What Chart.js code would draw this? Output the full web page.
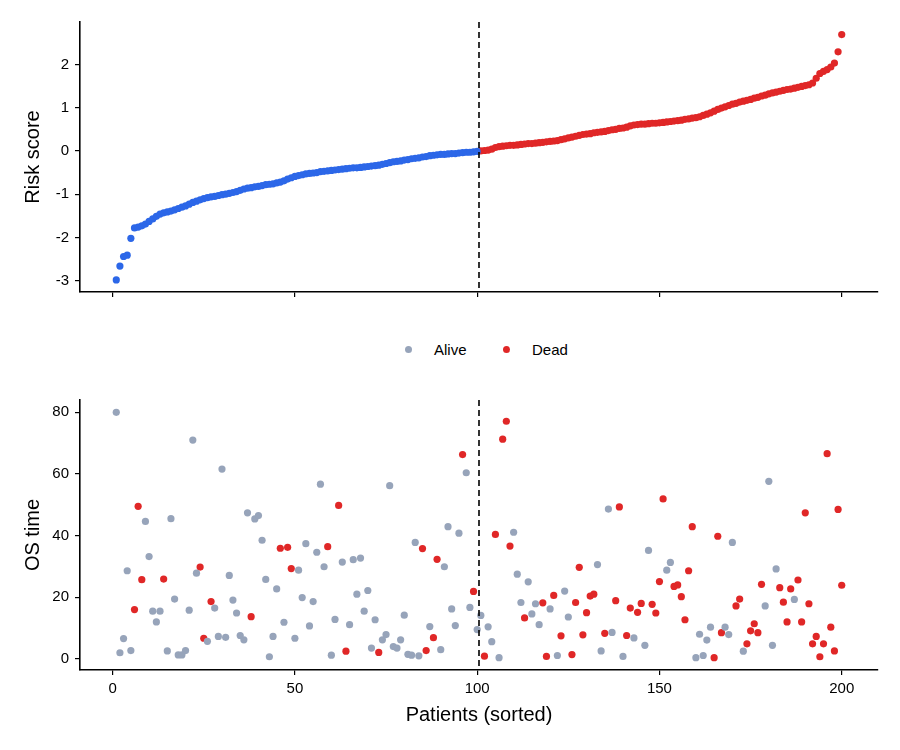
<!DOCTYPE html>
<html>
<head>
<meta charset="utf-8">
<script src="https://cdn.jsdelivr.net/npm/chart.js@4.4.1/dist/chart.umd.min.js"></script>
<style>
  body { margin: 0; background: #fff; width: 900px; height: 750px; position: relative; overflow: hidden; font-family: "Liberation Sans", Arial, sans-serif; }
  #top { position: absolute; left: 0; top: 0; }
  #bottom { position: absolute; left: 0; top: 390px; }
  .leyenda { position: absolute; top: 339px; font-size: 15px; color: #000; line-height: 22px; }
  .punto { display: inline-block; width: 7px; height: 7px; border-radius: 50%; vertical-align: middle; margin-right: 22px; position: relative; top: -2px; }
</style>
</head>
<body>
<canvas id="top" width="900" height="310"></canvas>
<div class="leyenda" style="left:405px"><span class="punto" style="background:#97a4ba"></span>Alive</div>
<div class="leyenda" style="left:503px"><span class="punto" style="background:#e02727"></span>Dead</div>
<canvas id="bottom" width="900" height="360"></canvas>
<script>
// risk score per patient, sorted (patient = position + 1)
const riskScore = [
  -2.98,-2.66,-2.44,-2.41,-2.02,-1.78,-1.76,-1.73,-1.69,-1.63,
  -1.57,-1.51,-1.46,-1.43,-1.41,-1.39,-1.36,-1.33,-1.30,-1.27,
  -1.23,-1.19,-1.16,-1.13,-1.10,-1.08,-1.06,-1.05,-1.03,-1.01,
  -1.00,-0.98,-0.96,-0.94,-0.91,-0.88,-0.86,-0.85,-0.83,-0.82,
  -0.80,-0.78,-0.77,-0.76,-0.74,-0.72,-0.69,-0.65,-0.62,-0.59,
  -0.57,-0.55,-0.53,-0.52,-0.51,-0.50,-0.48,-0.47,-0.46,-0.45,
  -0.44,-0.43,-0.42,-0.41,-0.40,-0.39,-0.39,-0.38,-0.37,-0.36,
  -0.35,-0.34,-0.33,-0.31,-0.29,-0.27,-0.25,-0.24,-0.23,-0.21,
  -0.20,-0.18,-0.17,-0.16,-0.14,-0.13,-0.11,-0.10,-0.09,-0.08,
  -0.08,-0.07,-0.06,-0.06,-0.05,-0.04,-0.03,-0.03,-0.02,-0.01,
  0.00,0.01,0.02,0.04,0.08,0.10,0.11,0.12,0.13,0.13,
  0.14,0.15,0.16,0.17,0.17,0.18,0.19,0.20,0.21,0.22,
  0.23,0.24,0.26,0.28,0.30,0.32,0.34,0.36,0.38,0.39,
  0.40,0.42,0.43,0.44,0.45,0.47,0.49,0.50,0.52,0.53,
  0.55,0.58,0.60,0.61,0.62,0.62,0.63,0.64,0.64,0.65,
  0.66,0.67,0.68,0.69,0.70,0.71,0.73,0.74,0.76,0.77,
  0.79,0.82,0.85,0.88,0.92,0.96,0.99,1.02,1.05,1.08,
  1.10,1.13,1.15,1.17,1.19,1.22,1.24,1.27,1.29,1.32,
  1.34,1.36,1.38,1.40,1.42,1.43,1.45,1.47,1.49,1.51,
  1.53,1.57,1.68,1.79,1.84,1.88,1.94,2.03,2.29,2.69
];

// overall survival time, same patient order
const osTime = [
  80.0,2.0,6.6,28.6,2.7,16.0,49.5,25.7,44.6,33.2,
  15.5,12.0,15.5,25.9,2.6,45.5,19.4,1.3,1.3,2.7,
  15.8,71.0,27.8,29.8,6.7,5.7,18.6,16.5,7.3,61.6,
  7.0,27.1,19.1,14.9,7.6,6.2,47.4,13.7,45.4,46.5,
  38.5,25.8,0.7,7.3,22.7,35.9,11.9,36.2,29.3,6.7,
  28.8,19.9,37.4,10.7,18.6,34.6,56.7,29.9,36.4,1.2,
  12.8,49.8,31.4,2.5,11.1,32.2,21.0,32.7,15.5,22.2,
  3.5,12.7,2.1,6.2,7.9,56.2,4.0,3.5,6.2,14.2,
  1.5,1.2,37.8,1.0,35.8,2.7,10.5,6.9,32.3,3.0,
  29.9,42.9,16.2,10.8,40.8,66.3,60.4,16.7,21.9,9.5,
  14.1,0.9,10.4,5.6,40.4,0.4,71.3,77.1,36.6,41.1,
  27.5,18.3,13.3,25.0,14.6,17.9,11.1,18.2,0.8,16.2,
  20.6,1.1,7.5,22.0,13.6,1.4,18.3,29.7,7.8,15.0,
  20.4,21.0,30.6,2.6,8.3,48.6,8.6,18.9,49.3,0.8,
  7.6,16.5,6.8,15.1,18.0,4.4,35.2,17.7,14.9,25.1,
  51.9,28.8,31.3,23.5,24.0,20.2,12.7,28.6,42.9,0.4,
  8.0,1.1,6.1,10.3,0.4,39.8,8.5,10.3,7.9,37.8,
  17.2,19.4,2.5,4.9,9.1,11.4,8.5,24.2,17.2,57.6,
  4.4,29.2,23.1,18.4,12.0,22.7,19.3,25.6,12.0,47.4,
  17.9,4.9,7.3,0.7,4.9,66.6,10.3,2.6,48.5,23.9
];

// 1 = Dead, 0 = Alive
const osStatus = [
  0,0,0,0,0,1,1,1,0,0, 0,0,0,1,0,0,0,0,0,0,
  0,0,0,1,1,0,1,0,0,0, 0,0,0,0,0,0,0,1,0,0,
  0,0,0,0,0,1,0,1,1,0, 0,0,0,0,0,0,0,0,1,0,
  0,1,0,1,0,0,0,0,0,0, 0,0,1,0,0,0,0,0,0,0,
  0,0,0,0,1,1,0,1,1,0, 0,0,0,0,0,1,0,0,1,0,
  0,1,0,0,1,0,1,1,1,0, 0,0,1,0,0,0,0,1,1,0,
  1,0,1,0,0,1,1,1,1,1, 1,1,0,0,1,0,0,1,1,0,
  1,1,0,1,1,0,0,1,1,1, 1,0,0,1,1,1,1,1,1,0,
  0,0,0,0,1,1,1,0,0,0, 1,1,0,1,1,1,1,1,0,0,
  0,0,1,1,1,1,0,1,1,1, 1,1,1,1,1,1,1,1,1,1
];

const statusLabels = ['Alive', 'Dead'];
const lowRiskCount = 100;     // first 100 sorted patients = low risk
const cutLine = 100.5;
const riskTicks = [-3, -2, -1, 0, 1, 2];
const osTicks = [0, 20, 40, 60, 80];
const patientTicks = [0, 50, 100, 150, 200];

const azul = '#2c67e8';
const rojo = '#e02727';
const gris = '#97a4ba';
const fuente = '"Liberation Sans", Arial, sans-serif';

var bajo = [], alto = [];
for (var i = 0; i < riskScore.length; i++) {
  if (i < lowRiskCount) bajo.push({x: i + 1, y: riskScore[i]});
  else alto.push({x: i + 1, y: riskScore[i]});
}
var vivos = [], muertos = [];
for (var i = 0; i < osTime.length; i++) {
  if (osStatus[i] == 1) muertos.push({x: i + 1, y: osTime[i]});
  else vivos.push({x: i + 1, y: osTime[i]});
}

const lineaCorte = {
  id: 'lineaCorte',
  afterDatasetsDraw(chart) {
    const ctx = chart.ctx, a = chart.chartArea;
    const x = chart.scales.x.getPixelForValue(cutLine);
    ctx.save();
    ctx.strokeStyle = '#000';
    ctx.lineWidth = 1.6;
    ctx.setLineDash([6, 4]);
    ctx.beginPath();
    ctx.moveTo(x, a.top);
    ctx.lineTo(x, a.bottom);
    ctx.stroke();
    ctx.restore();
  }
};

function ejeX(showLabels, height) {
  return {
    type: 'linear', min: -8.95, max: 209.95,
    afterBuildTicks: s => { s.ticks = patientTicks.map(v => ({value: v})); },
    afterFit: s => { s.height = height; s.paddingLeft = 0; s.paddingRight = 0; },
    border: {display: true, color: '#000', width: 1.6},
    grid: {drawOnChartArea: false, drawTicks: true, tickLength: 5, color: '#000', lineWidth: 1.2},
    ticks: {display: showLabels, color: '#000', padding: 5, font: {family: fuente, size: 15}, maxRotation: 0},
    title: {display: showLabels, text: 'Patients (sorted)', color: '#000', font: {family: fuente, size: 20}, padding: {top: 2, bottom: 4}}
  };
}

function ejeY(min, max, ticks, titulo) {
  return {
    type: 'linear', min: min, max: max,
    afterBuildTicks: s => { s.ticks = ticks.map(v => ({value: v})); },
    afterFit: s => { s.width = 63; s.paddingTop = 0; s.paddingBottom = 0; },
    border: {display: true, color: '#000', width: 1.6},
    grid: {drawOnChartArea: false, drawTicks: true, tickLength: 5, color: '#000', lineWidth: 1.2},
    ticks: {color: '#000', padding: 6, font: {family: fuente, size: 15}},
    title: {display: true, text: titulo, color: '#000', font: {family: fuente, size: 20}, padding: {top: 4, bottom: 4}}
  };
}

const puntos = {pointRadius: 3.6, pointHoverRadius: 3.6, pointBorderWidth: 0, showLine: false};

new Chart(document.getElementById('top'), {
  type: 'scatter',
  data: {
    datasets: [
      Object.assign({label: 'Low', data: bajo, backgroundColor: azul, borderColor: azul}, puntos),
      Object.assign({label: 'High', data: alto, backgroundColor: rojo, borderColor: rojo}, puntos)
    ]
  },
  options: {
    responsive: false, animation: false, devicePixelRatio: 1,
    layout: {padding: {left: 17, right: 22, top: 22, bottom: 0}},
    plugins: {legend: {display: false}, tooltip: {enabled: false}},
    scales: {
      x: ejeX(false, 18),
      y: ejeY(-3.26, 2.98, riskTicks, 'Risk score')
    }
  },
  plugins: [lineaCorte]
});

new Chart(document.getElementById('bottom'), {
  type: 'scatter',
  data: {
    datasets: [
      Object.assign({label: statusLabels[0], data: vivos, backgroundColor: gris, borderColor: gris}, puntos),
      Object.assign({label: statusLabels[1], data: muertos, backgroundColor: rojo, borderColor: rojo}, puntos)
    ]
  },
  options: {
    responsive: false, animation: false, devicePixelRatio: 1,
    layout: {padding: {left: 17, right: 22, top: 10, bottom: 19}},
    plugins: {legend: {display: false}, tooltip: {enabled: false}},
    scales: {
      x: ejeX(true, 61),
      y: ejeY(-3.6, 84, osTicks, 'OS time')
    }
  },
  plugins: [lineaCorte]
});
</script>
</body>
</html>
